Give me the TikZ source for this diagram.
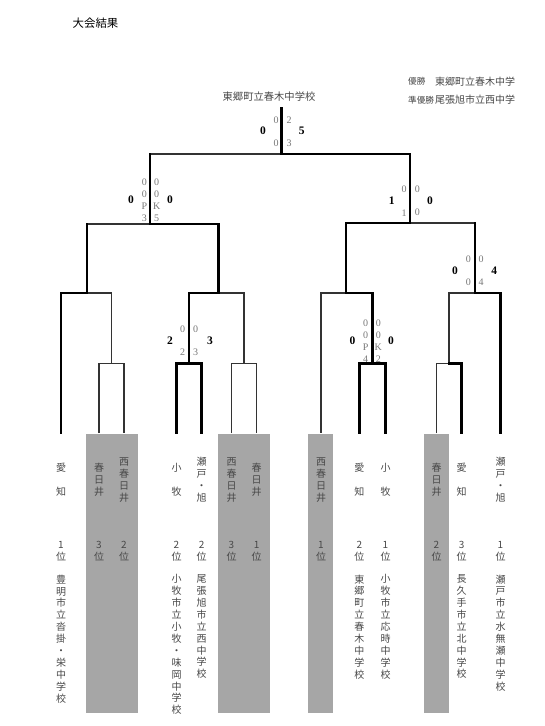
\documentclass[tikz,border=0pt]{standalone}
\usepackage{fontspec}
\setmainfont{Liberation Serif}
\newfontfamily\jp{Noto Sans CJK JP}
\definecolor{boxgray}{RGB}{166,166,166}
\definecolor{jpcol}{RGB}{72,72,72}
\definecolor{smallcol}{RGB}{120,120,120}
\tikzset{
  loseline/.style={line width=1.1pt, draw=black!80, line join=miter},
  winline/.style={line width=2.8pt, draw=black, line join=miter, line cap=rect},
  bigsc/.style={font=\bfseries\fontsize{11.5}{12}\selectfont, inner sep=0pt},
  smallsc/.style={font=\fontsize{10}{12.2}\selectfont, text=smallcol, inner sep=0pt, align=center},
  vjp/.style={font=\jp\fontsize{10}{11.9}\selectfont, text=jpcol, inner sep=0pt, align=center},
  hjp/.style={font=\jp\fontsize{10}{12}\selectfont, text=jpcol, inner sep=0pt},
  legjp/.style={font=\jp\fontsize{8.6}{10}\selectfont, text=jpcol, inner sep=0pt},
  cell/.style={fill=boxgray, draw=none},
}
\begin{document}
\begin{tikzpicture}[x=1pt,y=-1pt]
\useasboundingbox (0,0) rectangle (544,726);
\fill[white] (0,0) rectangle (544,726);

% gray cells
\fill[cell] (85.7,434) rectangle (137.7,713);
\fill[cell] (217.7,434) rectangle (270,713);
\fill[cell] (307.7,434) rectangle (333.3,713);
\fill[cell] (423.7,434) rectangle (449,713);

% coordinates
\coordinate (F) at (281.7,108);
\coordinate (Fj) at (281.7,154);
\coordinate (SL) at (150,154);
\coordinate (SR) at (410,154);
\coordinate (SLj) at (150,224);
\coordinate (SRj) at (410,223);
\coordinate (QA) at (87,224);   \coordinate (QAj) at (87,293);
\coordinate (QB) at (218.5,224); \coordinate (QBj) at (218.5,293);
\coordinate (QC) at (346,223);  \coordinate (QCj) at (346,293);
\coordinate (QD) at (475,223);  \coordinate (QDj) at (475,293);
% slot bottoms
\foreach \n/\x in {1/61,2/99,3/124,4/176.5,5/201.7,6/231.5,7/256.7,8/321,9/359.3,10/385.5,11/436.5,12/461.7,13/500.5}
  \coordinate (b\n) at (\x,433);
% first round tops
\foreach \n/\x in {2/99,3/124,4/176.5,5/201.7,6/231.5,7/256.7,9/359.3,10/385.5,11/436.5,12/461.7}
  \coordinate (t\n) at (\x,363.5);
\coordinate (j1) at (61,293);
\coordinate (j8) at (321,293);
\coordinate (j13) at (500.5,293);
\coordinate (j23) at (111.7,293);   \coordinate (k23) at (111.7,363.5);
\coordinate (j45) at (189,293);     \coordinate (k45) at (189,363.5);
\coordinate (j67) at (244,293);     \coordinate (k67) at (244,363.5);
\coordinate (j910) at (372.3,293);  \coordinate (k910) at (372.3,363.5);
\coordinate (j1112) at (449,293);   \coordinate (k1112) at (449,363.5);

% thin (losing) lines
\draw[loseline] (SL) -- (Fj);
\draw[loseline] (QA) -- (SLj);
\draw[loseline] (SRj) -- (QD);
\draw[loseline] (QAj) -- (j23) -- (k23);
\draw[loseline] (b2) -- (t2) -- (t3) -- (b3);
\draw[loseline] (QBj) -- (j67) -- (k67);
\draw[loseline] (b6) -- (t6) -- (t7) -- (b7);
\draw[loseline] (QCj) -- (j8) -- (b8);
\draw[loseline] (QDj) -- (j1112) -- (k1112);
\draw[loseline] (b11) -- (t11) -- (k1112);

% thick (winning) lines
\draw[winline] (F) -- (Fj) -- (SR) -- (SRj) -- (QC) -- (QCj) -- (j910) -- (k910);
\draw[winline] (b9) -- (t9) -- (t10) -- (b10);
\draw[winline] (SL) -- (SLj) -- (QB) -- (QBj) -- (j45) -- (k45);
\draw[winline] (b4) -- (t4) -- (t5) -- (b5);
\draw[winline] (b1) -- (j1) -- (QAj) -- (QA);
\draw[winline] (QD) -- (QDj) -- (j13) -- (b13);
\draw[winline] (k1112) -- (t12) -- (b12);

% title and legend
\node[font=\jp\fontsize{11.4}{12}\selectfont, inner sep=0pt] (title) at (95.5,23.3) {大会結果};
\node[legjp, anchor=west] (win1) at (408,81.7) {優勝};
\node[hjp, anchor=west] (win1n) at (435,81.7) {東郷町立春木中学};
\node[legjp, anchor=west] (win2) at (408,100) {準優勝};
\node[hjp, anchor=west] (win2n) at (435,100) {尾張旭市立西中学};
\node[hjp, font=\jp\fontsize{10.3}{12}\selectfont] (champ) at (269,96.7) {東郷町立春木中学校};

% final score
\node[bigsc] (f0) at (263,131) {0};
\node[bigsc] (f5) at (301.7,131) {5};
\node[smallsc] (fa) at (276,120) {0};
\node[smallsc] (fb) at (289,120) {2};
\node[smallsc] (fc) at (276,143.3) {0};
\node[smallsc] (fd) at (289,143.3) {3};

% left semi score
\node[bigsc] (l0) at (131,200) {0};
\node[bigsc] (l1) at (170,200) {0};
\node[smallsc] (la) at (144.3,200.2) {0\\0\\P\\3};
\node[smallsc] (lb) at (156.7,200.2) {0\\0\\K\\5};

% right semi score
\node[bigsc] (r0) at (391.7,201) {1};
\node[bigsc] (r1) at (430,201) {0};
\node[smallsc] (ra) at (404,189.3) {0};
\node[smallsc] (rb) at (417.3,189.3) {0};
\node[smallsc] (rc) at (404,212.7) {1};
\node[smallsc] (rd) at (417.3,212.7) {0};

% right-right quarter score
\node[bigsc] (q0) at (455,270.7) {0};
\node[bigsc] (q1) at (494.3,270.7) {4};
\node[smallsc] (qa) at (468.3,259.3) {0};
\node[smallsc] (qb) at (481,259.3) {0};
\node[smallsc] (qc) at (468.3,282.7) {0};
\node[smallsc] (qd) at (481,282.7) {4};

% match 4-5 score
\node[bigsc] (m0) at (170,340.7) {2};
\node[bigsc] (m1) at (210,340.7) {3};
\node[smallsc] (ma) at (182.5,329.3) {0};
\node[smallsc] (mb) at (195.7,329.3) {0};
\node[smallsc] (mc) at (182.5,352.3) {2};
\node[smallsc] (md) at (195.7,352.3) {3};

% match 9-10 score
\node[bigsc] (n0) at (352.5,341) {0};
\node[bigsc] (n1) at (391,341) {0};
\node[smallsc] (na) at (365.7,341) {0\\0\\P\\4};
\node[smallsc] (nb) at (378.3,341) {0\\0\\K\\2};

% region names
\node[vjp] (a1) at (61,480) {愛\\[11.9pt]知};
\node[vjp] (a2) at (99,480) {春\\日\\井};
\node[vjp] (a3) at (124,480) {西\\春\\日\\井};
\node[vjp] (a4) at (176.5,480) {小\\[11.9pt]牧};
\node[vjp] (a5) at (201.7,480) {瀬\\戸\\・\\旭};
\node[vjp] (a6) at (231.5,480) {西\\春\\日\\井};
\node[vjp] (a7) at (256.7,480) {春\\日\\井};
\node[vjp] (a8) at (321,480) {西\\春\\日\\井};
\node[vjp] (a9) at (359.3,480) {愛\\[11.9pt]知};
\node[vjp] (a10) at (385.5,480) {小\\[11.9pt]牧};
\node[vjp] (a11) at (436.5,480) {春\\日\\井};
\node[vjp] (a12) at (461.7,480) {愛\\[11.9pt]知};
\node[vjp] (a13) at (500.5,480) {瀬\\戸\\・\\旭};

% ranks
\node[vjp] (r1a) at (61,551) {1\\位};
\node[vjp] (r2a) at (99,551) {3\\位};
\node[vjp] (r3a) at (124,551) {2\\位};
\node[vjp] (r4a) at (176.5,551) {2\\位};
\node[vjp] (r5a) at (201.7,551) {2\\位};
\node[vjp] (r6a) at (231.5,551) {3\\位};
\node[vjp] (r7a) at (256.7,551) {1\\位};
\node[vjp] (r8a) at (321,551) {1\\位};
\node[vjp] (r9a) at (359.3,551) {2\\位};
\node[vjp] (r10a) at (385.5,551) {1\\位};
\node[vjp] (r11a) at (436.5,551) {2\\位};
\node[vjp] (r12a) at (461.7,551) {3\\位};
\node[vjp] (r13a) at (500.5,551) {1\\位};

% school names
\node[vjp, anchor=north] (s1) at (61,574.5) {豊\\明\\市\\立\\沓\\掛\\・\\栄\\中\\学\\校};
\begin{scope}
\clip (160,560) rectangle (193,713.5);
\node[vjp, anchor=north] (s4) at (176.5,574.5) {小\\牧\\市\\立\\小\\牧\\・\\味\\岡\\中\\学\\校};
\end{scope}
\node[vjp, anchor=north] (s5) at (201.7,574.5) {尾\\張\\旭\\市\\立\\西\\中\\学\\校};
\node[vjp, anchor=north] (s9) at (359.3,574.5) {東\\郷\\町\\立\\春\\木\\中\\学\\校};
\node[vjp, anchor=north] (s10) at (385.5,574.5) {小\\牧\\市\\立\\応\\時\\中\\学\\校};
\node[vjp, anchor=north] (s12) at (461.7,574.5) {長\\久\\手\\市\\立\\北\\中\\学\\校};
\node[vjp, anchor=north] (s13) at (500.5,574.5) {瀬\\戸\\市\\立\\水\\無\\瀬\\中\\学\\校};
\end{tikzpicture}
\end{document}
